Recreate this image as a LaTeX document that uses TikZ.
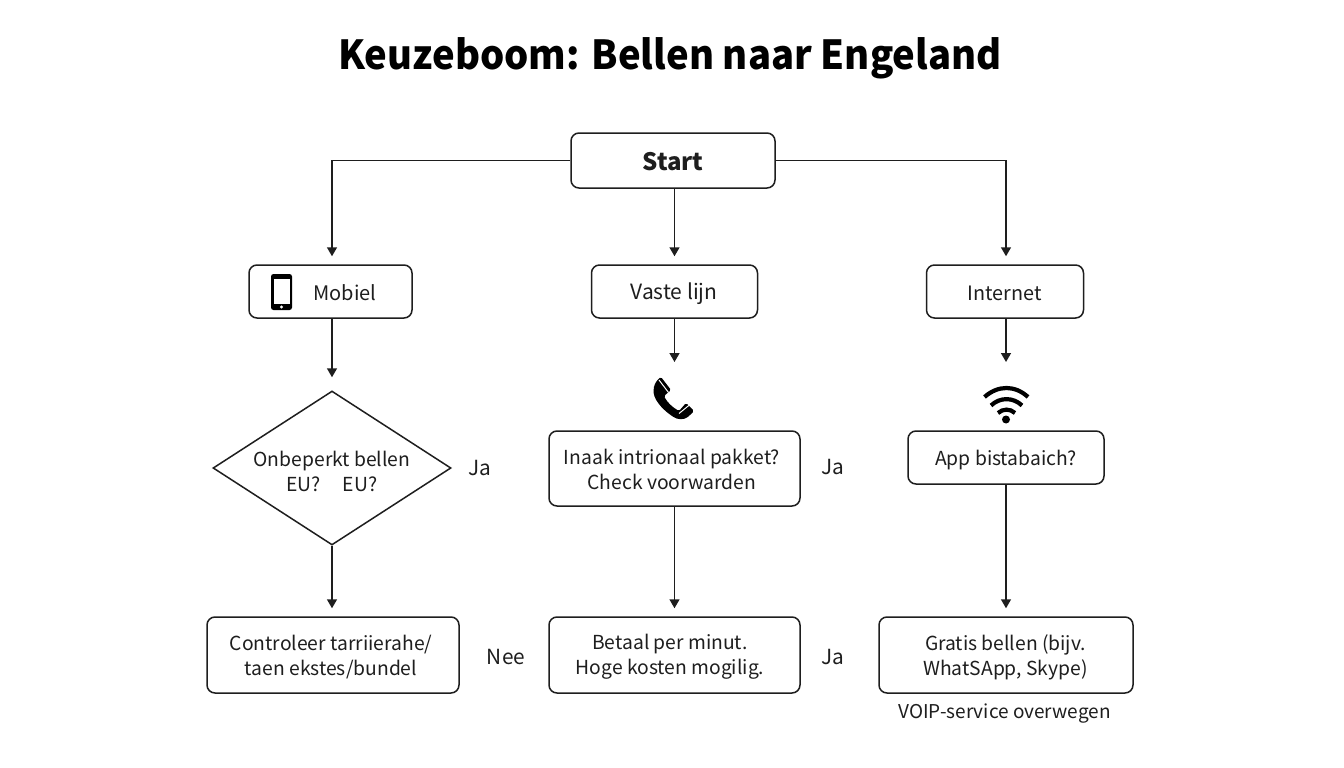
\documentclass[tikz,border=0pt]{standalone}
\usepackage{fontspec}
\setmainfont{Noto Sans CJK SC}
\usetikzlibrary{shapes.geometric,arrows.meta}
\definecolor{ink}{HTML}{1E1E1E}
\tikzset{
  x=1pt,y=-1pt,
  boxed/.style={draw=ink,line width=1.5pt,rounded corners=8pt,align=center,inner sep=0pt,text=ink},
  free/.style={text=ink,inner sep=0pt,align=center,font=\fontsize{19.3}{25}\selectfont},
  sidelabel/.style={free,font=\fontsize{20.8}{25}\selectfont},
  conn/.style={draw=ink,line width=1.5pt,-{Triangle[length=9pt,width=10pt]},rounded corners=0pt},
  gap/.style={shorten >=8pt},
  icon/.style={fill=black,draw=none}
}
\begin{document}
\begin{tikzpicture}
\useasboundingbox (0,0) rectangle (1344,768);
\fill[white] (0,0) rectangle (1344,768);
\node[free,font=\fontsize{40}{48}\bfseries\selectfont,text=black] (title) at (670,58) {\scalebox{.955}[1]{Keuzeboom: Bellen naar Engeland}};
\node[boxed,minimum width=204pt,minimum height=55pt] (start) at (673,160.5) {};
\node[free,font=\fontsize{24}{28}\bfseries\selectfont] (starttxt) at (673,162) {Start};
\node[boxed,minimum width=163pt,minimum height=53pt] (mobiel) at (330.5,291.5) {};
\node[free,font=\fontsize{20}{25}\selectfont] (mobieltxt) at (345,292.5) {Mobiel};
\node[boxed,minimum width=166pt,minimum height=53pt] (vaste) at (674.5,291.5) {};
\node[free,font=\fontsize{21}{25}\selectfont] (vastetxt) at (674,293.5) {Vaste lijn};
\node[boxed,minimum width=157pt,minimum height=53pt] (internet) at (1005,291.5) {};
\node[free,font=\fontsize{19.8}{25}\selectfont] (internettxt) at (1004.5,293) {Internet};
\node[draw=ink,line width=1.5pt,diamond,aspect=1.55,inner sep=0pt,minimum width=238pt,minimum height=154pt] (dia) at (332,468) {};
\node[free] (diatxt) at (332,471.5) {Onbeperkt bellen\\EU?\hspace{22pt}EU?};
\node[boxed,minimum width=251pt,minimum height=75pt] (pakket) at (674.5,468.5) {};
\node[free] (pakkettxt) at (672,469) {Inaak intrionaal pakket?\\Check voorwarden};
\node[boxed,minimum width=196pt,minimum height=53pt] (app) at (1006,457.5) {};
\node[free] (apptxt) at (1006,460) {App bistabaich?};
\node[boxed,minimum width=252pt,minimum height=76pt] (tarief) at (333,655) {};
\node[free] (tarieftxt) at (331,657.5) {Controleer tarriierahe/\\taen ekstes/bundel};
\node[boxed,minimum width=251pt,minimum height=76pt] (minuut) at (674.5,655) {};
\node[free] (minuuttxt) at (670,657) {Betaal per minut.\\Hoge kosten mogilig.};
\node[boxed,minimum width=254pt,minimum height=76pt] (gratis) at (1006,655) {};
\node[free] (gratistxt) at (1005.5,657) {Gratis bellen (bijv.\\WhatSApp, Skype)};
\node[sidelabel] (ja1) at (480,468) {Ja};
\node[sidelabel] (ja2) at (833,467) {Ja};
\node[sidelabel] (nee) at (506,657) {Nee};
\node[sidelabel] (ja3) at (833,657) {Ja};
\node[free,font=\fontsize{19}{22}\selectfont] (voip) at (1004.5,714) {VOIP-service overwegen};
\coordinate (phonetip) at (674.5,362);
\coordinate (wifitip) at (1006,362);
\draw[conn,gap] (start.west) -| (mobiel.north -| dia.north);
\draw[conn,gap] (vaste.north |- start.south) -- (vaste.north);
\draw[conn,gap] (start.east) -| (wifitip |- internet.north);
\draw[conn] (mobiel.south -| dia.north) -- ([yshift=13pt]dia.north);
\draw[conn] (vaste.south) -- (phonetip);
\draw[conn] (wifitip |- internet.south) -- (wifitip);
\draw[conn,gap] (dia.south) -- (tarief.north -| dia.south);
\draw[conn,gap] (pakket.south) -- (minuut.north);
\draw[conn,gap] (app.south) -- (gratis.north);
% mobile icon
\fill[icon,rounded corners=2.5pt] (271,274) rectangle (292,310);
\fill[white] (273.5,278.5) rectangle (289.5,304);
\fill[white] (281.5,307) circle (1.6);
% phone icon
\fill[icon,rounded corners=1.5pt] (654,388) .. controls (654.5,384) and (657,380) .. (661,377) -- (671,390) -- (664,396) .. controls (667,402) and (672,407) .. (679,411) -- (686,403) -- (694,411) -- (689,416) .. controls (684,420) and (678,420) .. (672,416) .. controls (662,409) and (652,398) .. (654,388) -- cycle;
\draw[white,line width=1pt] (659,380) -- (668.5,392.5);
\draw[white,line width=1pt] (679,413.5) -- (690,404.5);
% wifi icon
\draw[black,line width=4.2pt] (984.5,397) .. controls (998,385) and (1015,385) .. (1028,397);
\draw[black,line width=4.2pt] (991,405.5) .. controls (1000,397) and (1013,397) .. (1022,405.5);
\draw[black,line width=4.2pt] (998,413) .. controls (1003,408.5) and (1010,408.5) .. (1015,413);
\fill[black] (1006,419.5) circle (4);
\end{tikzpicture}
\end{document}
